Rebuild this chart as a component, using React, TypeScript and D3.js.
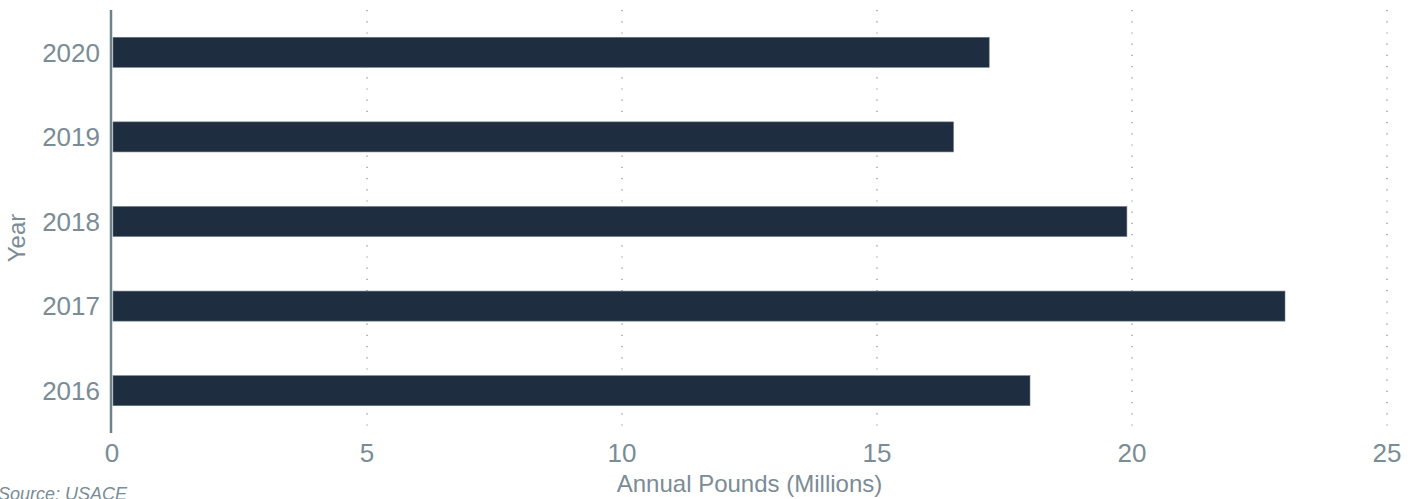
import * as d3 from "d3";
import { useEffect, useRef } from "react";

const years = ["2020", "2019", "2018", "2017", "2016"];
const pounds = [17.2, 16.5, 19.9, 23.0, 18.0];
const xTicks = [0, 5, 10, 15, 20, 25];

export default function App() {
  const ref = useRef<SVGSVGElement | null>(null);

  useEffect(() => {
    const width = 1416;
    const height = 499;
    const margin = { top: 10, right: 29, bottom: 66, left: 112 };
    const textColor = "#7a8c96";
    const font = "'Liberation Sans', Arial, sans-serif";

    const svg = d3.select(ref.current).attr("width", width).attr("height", height);
    svg.selectAll("*").remove();

    const x = d3
      .scaleLinear()
      .domain([0, 25])
      .range([margin.left, width - margin.right]);

    const y = d3
      .scaleBand<string>()
      .domain(years)
      .range([margin.top, height - margin.bottom])
      .paddingInner(0.645)
      .paddingOuter(0.3225);

    // Dotted grid lines
    svg
      .append("g")
      .selectAll("line")
      .data(xTicks.filter((d) => d > 0))
      .join("line")
      .attr("x1", (d) => x(d))
      .attr("x2", (d) => x(d))
      .attr("y1", margin.top)
      .attr("y2", height - margin.bottom)
      .attr("stroke", "#7d8c96")
      .attr("stroke-width", 1.2)
      .attr("stroke-dasharray", "1.2,10");

    // Bars
    svg
      .append("g")
      .selectAll("rect")
      .data(years)
      .join("rect")
      .attr("x", x(0) + 1)
      .attr("y", (d) => y(d)!)
      .attr("width", (d, i) => x(pounds[i]) - x(0) - 1)
      .attr("height", y.bandwidth())
      .attr("fill", "#1e2d40")
      .attr("stroke", "#6b7884")
      .attr("stroke-width", 0.6);

    // Y axis line
    svg
      .append("line")
      .attr("x1", x(0) - 1)
      .attr("x2", x(0) - 1)
      .attr("y1", margin.top)
      .attr("y2", height - margin.bottom)
      .attr("stroke", "#6f828c")
      .attr("stroke-width", 2.5);

    // Y tick labels
    svg
      .append("g")
      .selectAll("text")
      .data(years)
      .join("text")
      .attr("x", x(0) - 12)
      .attr("y", (d) => y(d)! + y.bandwidth() / 2)
      .attr("dy", "0.36em")
      .attr("text-anchor", "end")
      .attr("font-family", font)
      .attr("font-size", 26)
      .attr("fill", textColor)
      .text((d) => d);

    // X tick labels
    svg
      .append("g")
      .selectAll("text")
      .data(xTicks)
      .join("text")
      .attr("x", (d) => x(d))
      .attr("y", 462)
      .attr("text-anchor", "middle")
      .attr("font-family", font)
      .attr("font-size", 26)
      .attr("fill", textColor)
      .text((d) => d);

    // Axis titles
    svg
      .append("text")
      .attr("x", (margin.left + width - margin.right) / 2)
      .attr("y", 492)
      .attr("text-anchor", "middle")
      .attr("font-family", font)
      .attr("font-size", 24)
      .attr("fill", textColor)
      .text("Annual Pounds (Millions)");

    svg
      .append("text")
      .attr("transform", "translate(25,238) rotate(-90)")
      .attr("text-anchor", "middle")
      .attr("font-family", font)
      .attr("font-size", 24)
      .attr("fill", textColor)
      .text("Year");

    svg
      .append("text")
      .attr("x", -2)
      .attr("y", 500)
      .attr("font-family", font)
      .attr("font-size", 18)
      .attr("font-style", "italic")
      .attr("fill", textColor)
      .text("Source: USACE");
  }, []);

  return (
    <svg
      ref={ref}
      style={{ position: "absolute", left: 0, top: 0, display: "block" }}
    />
  );
}
